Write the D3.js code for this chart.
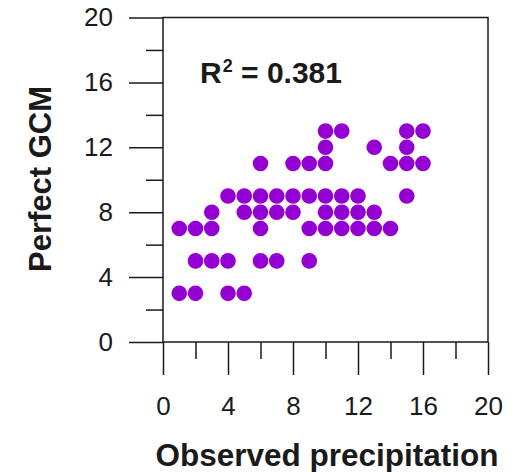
<!DOCTYPE html>
<html>
<head>
<meta charset="utf-8">
<script src="https://cdn.jsdelivr.net/npm/d3@7/dist/d3.min.js"></script>
<style>
  body { margin: 0; background: #fff; }
  svg { font-family: "Liberation Sans", Arial, sans-serif; }
</style>
</head>
<body>
<svg id="chart" width="517" height="472"></svg>
<script>
// observed vs perfect GCM
const observed = [
  10, 11, 15, 16,
  10, 13, 15,
  6, 8, 9, 10, 14, 15, 16,
  4, 5, 6, 7, 8, 9, 10, 11, 12, 15,
  3, 5, 6, 7, 8, 10, 11, 12, 13,
  1, 2, 3, 6, 9, 10, 11, 12, 13, 14,
  2, 3, 4, 6, 7, 9,
  1, 2, 4, 5
];
const perfectGCM = [
  13, 13, 13, 13,
  12, 12, 12,
  11, 11, 11, 11, 11, 11, 11,
  9, 9, 9, 9, 9, 9, 9, 9, 9, 9,
  8, 8, 8, 8, 8, 8, 8, 8, 8,
  7, 7, 7, 7, 7, 7, 7, 7, 7, 7,
  5, 5, 5, 5, 5, 5,
  3, 3, 3, 3
];
const majorTicks = [0, 4, 8, 12, 16, 20];
const minorTicks = [2, 6, 10, 14, 18];
const r2Label = "0.381";

const svg = d3.select("#chart");
const x = d3.scaleLinear().domain([0, 20]).range([163, 488]);
const y = d3.scaleLinear().domain([0, 20]).range([342, 17.5]);
const ink = "#1a1a1a";

// y axis, major + minor ticks
svg.append("g")
  .attr("transform", `translate(${x(0)},0)`)
  .call(d3.axisLeft(y).tickValues(majorTicks).tickSize(34).tickPadding(16))
  .call(g => g.select(".domain").remove())
  .call(g => g.selectAll("text").attr("font-size", 26).attr("fill", ink).attr("font-family", null));
svg.append("g")
  .attr("transform", `translate(${x(0)},0)`)
  .call(d3.axisLeft(y).tickValues(minorTicks).tickSize(17).tickFormat(""))
  .call(g => g.select(".domain").remove());

// x axis
svg.append("g")
  .attr("transform", `translate(0,${y(0)})`)
  .call(d3.axisBottom(x).tickValues(majorTicks).tickSize(33).tickPadding(22))
  .call(g => g.select(".domain").remove())
  .call(g => g.selectAll("text").attr("font-size", 26).attr("fill", ink).attr("font-family", null));
svg.append("g")
  .attr("transform", `translate(0,${y(0)})`)
  .call(d3.axisBottom(x).tickValues(minorTicks).tickSize(17).tickFormat(""))
  .call(g => g.select(".domain").remove());

svg.selectAll(".tick line").attr("stroke", ink).attr("stroke-width", 1.5);

// frame
svg.append("rect")
  .attr("x", x(0)).attr("y", y(20))
  .attr("width", x(20) - x(0)).attr("height", y(0) - y(20))
  .attr("fill", "none").attr("stroke", ink).attr("stroke-width", 1.5);

// points
svg.append("g").selectAll("circle")
  .data(observed.map((d, i) => [d, perfectGCM[i]]))
  .join("circle")
  .attr("cx", d => x(d[0]))
  .attr("cy", d => y(d[1]))
  .attr("r", 7.8)
  .attr("fill", "#9400d3");

// R squared label
const r2 = svg.append("text")
  .attr("x", 200).attr("y", 83)
  .attr("font-size", 30).attr("font-weight", "bold").attr("fill", ink);
r2.append("tspan").text("R");
r2.append("tspan").attr("font-size", 18).attr("dy", -11).attr("dx", 1).text("2");
r2.append("tspan").attr("dy", 11).text(" = " + r2Label);

// axis titles
svg.append("text")
  .attr("x", 327).attr("y", 466)
  .attr("text-anchor", "middle")
  .attr("font-size", 31.5).attr("font-weight", "bold").attr("fill", ink)
  .text("Observed precipitation");

svg.append("text")
  .attr("transform", `translate(51,179) rotate(-90)`)
  .attr("text-anchor", "middle")
  .attr("font-size", 31).attr("font-weight", "bold").attr("fill", ink)
  .text("Perfect GCM");
</script>
</body>
</html>
